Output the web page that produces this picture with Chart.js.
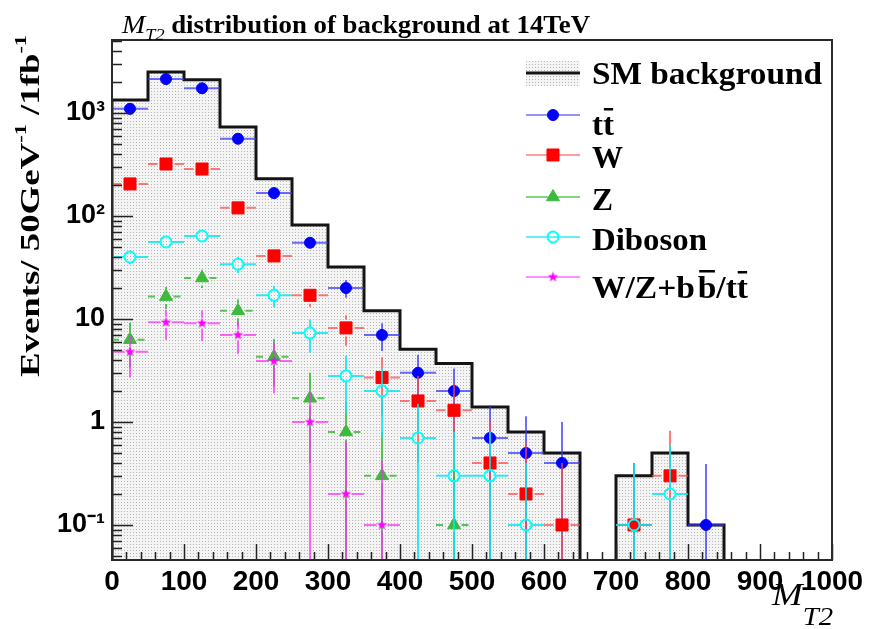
<!DOCTYPE html>
<html lang="en">
<head>
<meta charset="utf-8">
<title>MT2 background at 14TeV</title>
<script src="https://cdn.jsdelivr.net/npm/chart.js"></script>
<style>
  body { margin: 0; background: #fff; }
  canvas { display: block; }
</style>
</head>
<body>
<canvas id="mt2" width="869" height="629"></canvas>
<script>
// 50 GeV bins, centres in GeV
const binCentres = [25, 75, 125, 175, 225, 275, 325, 375, 425, 475, 525, 575, 625, 675, 725, 775, 825];
const binHalf = 25;

// SM background total (0 = empty bin)
const smTotal = [1340, 2500, 2100, 730, 230, 82, 32, 12, 5.1, 3.7, 1.4, 0.8, 0.5, 0, 0.3, 0.5, 0.1];

const ttbar    = [1100, 2140, 1740, 563, 167, 55, 20, 7, 3.0, 2.0, 0.7, 0.5, 0.4, null, 0.1, null, 0.1];
const ttbarErr = [29, 40, 36, 20, 11, 6.4, 3.9, 2.1, 1.5, 1.3, 0.75, 0.64, 0.6, null, 0.3, null, 0.29];
const wjets    = [205, 320, 286, 120, 41, 17, 8.2, 2.7, 1.6, 1.3, 0.4, 0.2, 0.1, null, 0.1, 0.3, null];
const wjetsErr = [14, 17, 16, 10, 6, 3.9, 2.7, 1.56, 1.2, 1.1, 0.6, 0.42, 0.3, null, 0.3, 0.52, null];
const zjets    = [6.3, 16.5, 25, 12, 4.3, 1.7, 0.8, 0.3, null, 0.1, null, null, null, null, null, null, null];
const zjetsErr = [2.9, 4, 5, 3.5, 2.1, 1.3, 0.77, 0.5, null, 0.3, null, null, null, null, null, null, null];
const diboson    = [40, 56, 64, 34, 17, 7.3, 2.8, 2.0, 0.7, 0.3, 0.3, 0.1, null, null, 0.1, 0.2, null];
const dibosonErr = [6, 7, 8, 6, 4, 2.6, 1.6, 1.3, 0.8, 0.5, 0.5, 0.3, null, null, 0.3, 0.4, null];
const heavyFlav    = [4.8, 9.3, 9.1, 7.0, 3.9, 1.0, 0.2, 0.1, null, null, null, null, null, null, null, null, null];
const heavyFlavErr = [2.1, 3, 3, 2.4, 2, 1.0, 0.45, 0.32, null, null, null, null, null, null, null, null, null];

const xTicks = [0, 100, 200, 300, 400, 500, 600, 700, 800, 900, 1000];
const yTicks = [0.1, 1, 10, 100, 1000];
const yTickLabels = ['10\u207B\u00B9', '1', '10', '10\u00B2', '10\u00B3'];

const Y_MIN = 0.0457, Y_MAX = 5120, FLOOR = 1e-3;
const SERIF = "'Liberation Serif', 'DejaVu Serif', serif";
const SANS = "'Liberation Sans', Arial, sans-serif";

const canvas = document.getElementById('mt2');
const ctx0 = canvas.getContext('2d');

function dotPattern() {
  const c = document.createElement('canvas');
  c.width = 3; c.height = 3;
  const g = c.getContext('2d');
  g.fillStyle = '#f4f4f4'; g.fillRect(0, 0, 3, 3);
  g.fillStyle = '#b5b5b5'; g.fillRect(1, 1, 1, 1);
  return ctx0.createPattern(c, 'repeat');
}
const histFill = dotPattern();

function starImage(r, color) {
  const s = Math.ceil(r * 2 + 2);
  const c = document.createElement('canvas');
  c.width = s; c.height = s;
  const g = c.getContext('2d');
  g.fillStyle = color;
  g.beginPath();
  for (let i = 0; i < 10; i++) {
    const rr = i % 2 ? r * 0.42 : r;
    const a = -Math.PI / 2 + i * Math.PI / 5;
    g.lineTo(s / 2 + rr * Math.cos(a), s / 2 + rr * Math.sin(a));
  }
  g.closePath();
  g.fill();
  return c;
}

const series = [
  {name: 'ttbar', vals: ttbar, errs: ttbarErr, color: '#0000ff', errColor: 'rgba(50,50,255,0.7)', style: 'circle', r: 5.5},
  {name: 'W', vals: wjets, errs: wjetsErr, color: '#ff0000', errColor: 'rgba(255,70,70,0.7)', style: 'rect', r: 8.5},
  {name: 'Z', vals: zjets, errs: zjetsErr, color: '#3cba3c', errColor: 'rgba(60,186,60,0.85)', style: 'triangle', r: 7.5, dash: [7, 4]},
  {name: 'Diboson', vals: diboson, errs: dibosonErr, color: '#00ffff', errColor: 'rgba(0,230,240,0.8)', style: 'circle', r: 5.5, hollow: true},
  {name: 'W/Z+bb/tt', vals: heavyFlav, errs: heavyFlavErr, color: '#ff00ff', errColor: 'rgba(255,40,255,0.7)', style: starImage(5.5, '#ff00ff'), r: 5.5}
];

// histogram outline, points at bin left edges
const histPoints = [{x: 0, y: FLOOR}];
smTotal.forEach((v, i) => histPoints.push({x: binCentres[i] - binHalf, y: v > 0 ? v : FLOOR}));
histPoints.push({x: binCentres[binCentres.length - 1] + binHalf, y: FLOOR});

const datasets = [{
  type: 'line', label: 'SM background', data: histPoints, showLine: true,
  stepped: 'before', borderColor: '#141414', borderWidth: 3, pointRadius: 0,
  backgroundColor: histFill, fill: 'start', order: 10
}];
series.forEach((s, k) => {
  datasets.push({
    type: 'scatter', label: s.name,
    data: binCentres.map((x, i) => ({x: x, y: s.vals[i], e: s.errs[i]})).filter(p => p.y != null),
    pointStyle: s.style, pointRadius: s.r,
    pointBackgroundColor: s.hollow ? 'rgba(0,0,0,0)' : s.color,
    pointBorderColor: s.color, pointBorderWidth: s.hollow ? 2 : 1,
    errColor: s.errColor, errDash: s.dash, order: 5 - k
  });
});

const errorBars = {
  id: 'errorBars',
  beforeDatasetDraw(chart, args) {
    const ds = chart.data.datasets[args.index];
    if (!ds.errColor) return;
    const {ctx, chartArea: a, scales: {x, y}} = chart;
    ctx.save();
    ctx.beginPath();
    ctx.rect(a.left, a.top, a.right - a.left, a.bottom - a.top);
    ctx.clip();
    ctx.strokeStyle = ds.errColor;
    ctx.lineWidth = 2;
    const gap = ds.pointRadius;
    ds.data.forEach(p => {
      const px = x.getPixelForValue(p.x), py = y.getPixelForValue(p.y);
      const xl = x.getPixelForValue(p.x - binHalf), xr = x.getPixelForValue(p.x + binHalf);
      const yt = y.getPixelForValue(p.y + p.e);
      const yb = p.y - p.e > 0 ? y.getPixelForValue(p.y - p.e) : a.bottom;
      ctx.setLineDash(ds.errDash || []);
      ctx.beginPath();
      ctx.moveTo(xl, py); ctx.lineTo(px - gap, py);
      ctx.moveTo(px + gap, py); ctx.lineTo(xr, py);
      ctx.stroke();
      ctx.setLineDash([]);
      ctx.beginPath();
      if (yt < py - gap) { ctx.moveTo(px, yt); ctx.lineTo(px, py - gap); }
      if (yb > py + gap) { ctx.moveTo(px, py + gap); ctx.lineTo(px, yb); }
      ctx.stroke();
    });
    ctx.restore();
  }
};

const frameAndTicks = {
  id: 'frameAndTicks',
  afterDatasetsDraw(chart) {
    const {ctx, chartArea: a, scales: {x, y}} = chart;
    ctx.save();
    ctx.strokeStyle = '#222';
    ctx.lineWidth = 1.5;
    ctx.beginPath();
    for (let d = -2; d <= 3; d++) {
      for (let m = 1; m <= 9; m++) {
        const v = m * Math.pow(10, d);
        if (v < Y_MIN || v > Y_MAX) continue;
        const py = Math.round(y.getPixelForValue(v)) + 0.5;
        ctx.moveTo(a.left, py);
        ctx.lineTo(a.left + (m === 1 ? 21 : 10), py);
      }
    }
    for (let v = 0; v <= 1000; v += 20) {
      const px = Math.round(x.getPixelForValue(v)) + 0.5;
      ctx.moveTo(px, a.bottom);
      ctx.lineTo(px, a.bottom - (v % 100 === 0 ? 16 : 8));
    }
    ctx.stroke();
    ctx.lineWidth = 2;
    ctx.strokeStyle = '#2a2a2a';
    ctx.strokeRect(a.left, a.top, a.right - a.left, a.bottom - a.top);
    ctx.restore();
  }
};

// rich text: segments drawn left to right, stretched to a target width
function drawRich(ctx, segs, x, y, width, angle) {
  let total = 0;
  segs.forEach(s => { ctx.font = s.font; s.w = ctx.measureText(s.t).width; total += s.w; });
  const sx = width ? width / total : 1;
  ctx.save();
  ctx.translate(x, y);
  if (angle) ctx.rotate(angle);
  ctx.scale(sx, 1);
  let cx = 0;
  segs.forEach(s => {
    ctx.font = s.font;
    ctx.fillText(s.t, cx, s.dy || 0);
    if (s.bar) ctx.fillRect(cx + s.w * 0.08, -s.bar, s.w * 0.84, 2.5);
    cx += s.w;
  });
  ctx.restore();
}

const LEG = 'bold 31px ' + SERIF;
const legendRows = [
  {y: 73, ty: 84, hist: true, w: 230, segs: [{t: 'SM background', font: LEG}]},
  {y: 115, ty: 135, s: 0, w: 22, segs: [{t: 't', font: LEG}, {t: 't', font: LEG, bar: 27}]},
  {y: 155, ty: 168, s: 1, w: 31, segs: [{t: 'W', font: LEG}]},
  {y: 197, ty: 210, s: 2, w: 21, segs: [{t: 'Z', font: LEG}]},
  {y: 237, ty: 250, s: 3, w: 115, segs: [{t: 'Diboson', font: LEG}]},
  {y: 277, ty: 298, s: 4, w: 156, segs: [{t: 'W/Z+b\u200A', font: LEG}, {t: 'b', font: LEG, bar: 28}, {t: '/t', font: LEG}, {t: 't', font: LEG, bar: 27}]}
];

function legendMarker(ctx, s, x, y) {
  const opts = {pointStyle: s.style, radius: s.r, rotation: 0, borderWidth: s.hollow ? 2 : 1};
  ctx.fillStyle = s.hollow ? 'rgba(0,0,0,0)' : s.color;
  ctx.strokeStyle = s.color;
  ctx.lineWidth = opts.borderWidth;
  Chart.helpers.drawPoint(ctx, opts, x, y);
}

const texts = {
  id: 'texts',
  afterDraw(chart) {
    const ctx = chart.ctx;
    ctx.save();
    ctx.fillStyle = '#000';
    ctx.textBaseline = 'alphabetic';
    // title
    drawRich(ctx, [
      {t: 'M', font: 'italic 26px ' + SERIF},
      {t: 'T2', font: 'italic 17px ' + SERIF, dy: 7},
      {t: ' distribution of background at 14TeV', font: 'bold 25px ' + SERIF}
    ], 122, 33, 468);
    // y title
    drawRich(ctx, [
      {t: 'Events/ 50GeV', font: 'bold 28px ' + SERIF},
      {t: '-1', font: 'bold 17px ' + SERIF, dy: -13},
      {t: ' /1fb', font: 'bold 28px ' + SERIF},
      {t: '-1', font: 'bold 17px ' + SERIF, dy: -13}
    ], 39, 377, 342, -Math.PI / 2);
    // x title
    drawRich(ctx, [
      {t: 'M', font: 'italic 32px ' + SERIF},
      {t: 'T2', font: 'italic 25px ' + SERIF, dy: 20}
    ], 772, 605, 61);
    // legend
    legendRows.forEach(row => {
      if (row.hist) {
        ctx.fillStyle = histFill;
        ctx.fillRect(526, row.y - 12, 54, 25);
        ctx.fillStyle = '#141414';
        ctx.fillRect(526, row.y - 1.5, 54, 3);
      } else {
        const s = series[row.s];
        ctx.strokeStyle = s.errColor;
        ctx.lineWidth = 1.5;
        ctx.beginPath();
        ctx.moveTo(526, row.y); ctx.lineTo(580, row.y);
        ctx.stroke();
        legendMarker(ctx, s, 553, row.y);
      }
      ctx.fillStyle = '#000';
      drawRich(ctx, row.segs, 592, row.ty, row.w);
    });
    ctx.restore();
  }
};

new Chart(canvas, {
  type: 'scatter',
  data: {datasets: datasets},
  options: {
    responsive: false,
    animation: false,
    events: [],
    layout: {padding: {top: 40, right: 37, left: 0, bottom: 0}},
    plugins: {legend: {display: false}, title: {display: false}, tooltip: {enabled: false}},
    scales: {
      x: {
        type: 'linear', min: 0, max: 1000,
        grid: {display: false, drawTicks: false}, border: {display: false},
        afterBuildTicks: s => { s.ticks = xTicks.map(v => ({value: v})); },
        afterFit: s => { s.height = 69; s.paddingLeft = 0; s.paddingRight = 0; },
        ticks: {autoSkip: false, maxRotation: 0, padding: 5, color: '#000',
                font: {family: SANS, weight: 'bold', size: 28},
                callback: v => String(v)}
      },
      y: {
        type: 'logarithmic', min: Y_MIN, max: Y_MAX,
        grid: {display: false, drawTicks: false}, border: {display: false},
        afterBuildTicks: s => { s.ticks = yTicks.map(v => ({value: v})); },
        afterFit: s => { s.width = 112; s.paddingTop = 0; s.paddingBottom = 0; },
        ticks: {autoSkip: false, padding: 7, color: '#000',
                font: {family: SANS, weight: 'bold', size: 27},
                callback: (v, i) => yTickLabels[i]}
      }
    }
  },
  plugins: [errorBars, frameAndTicks, texts]
});
</script>
</body>
</html>
